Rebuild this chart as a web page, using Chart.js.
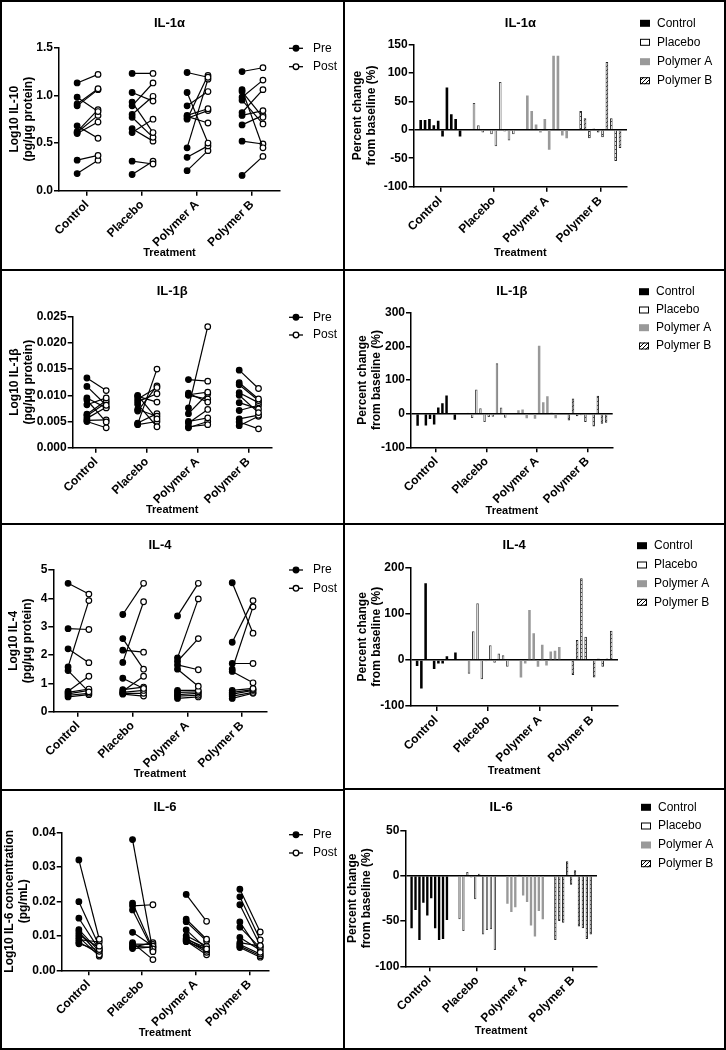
<!DOCTYPE html>
<html>
<head>
<meta charset="utf-8">
<script src="https://cdn.jsdelivr.net/npm/chart.js@4/dist/chart.umd.min.js"></script>
<style>
  body { margin: 0; background: #fff; width: 726px; height: 1050px; position: relative; overflow: hidden; }
  canvas { position: absolute; }
  .frame { position: absolute; border: 2px solid #000; box-sizing: border-box; pointer-events: none; }
</style>
</head>
<body>
<canvas id="preIl1a" width="343" height="268" style="left:0;top:0"></canvas>
<canvas id="chgIl1a" width="379" height="268" style="left:345px;top:0"></canvas>
<canvas id="preIl1b" width="343" height="253" style="left:0;top:270px"></canvas>
<canvas id="chgIl1b" width="379" height="253" style="left:345px;top:270px"></canvas>
<canvas id="preIl4" width="343" height="264" style="left:0;top:525px"></canvas>
<canvas id="chgIl4" width="379" height="264" style="left:345px;top:525px"></canvas>
<canvas id="preIl6" width="343" height="257" style="left:0;top:791px"></canvas>
<canvas id="chgIl6" width="379" height="258" style="left:345px;top:790px"></canvas>

<div class="frame" style="left:0;top:0;width:345px;height:271px"></div>
<div class="frame" style="left:0;top:269px;width:345px;height:256px"></div>
<div class="frame" style="left:0;top:523px;width:345px;height:268px"></div>
<div class="frame" style="left:0;top:789px;width:345px;height:261px"></div>
<div class="frame" style="left:343px;top:0;width:383px;height:271px"></div>
<div class="frame" style="left:343px;top:269px;width:383px;height:256px"></div>
<div class="frame" style="left:343px;top:523px;width:383px;height:267px"></div>
<div class="frame" style="left:343px;top:788px;width:383px;height:262px"></div>

<script>
// ---- data ----
const categories = ['Control', 'Placebo', 'Polymer A', 'Polymer B'];
const seriesNames = ['Pre', 'Post'];

// IL-1alpha (one row per treatment group, one value per subject)
const il1aPre = [
  [1.13, 0.98, 0.91, 0.89, 0.68, 0.62, 0.61, 0.60, 0.32, 0.18],
  [1.23, 1.03, 0.93, 0.89, 0.80, 0.77, 0.65, 0.61, 0.31, 0.17],
  [1.24, 1.03, 0.89, 0.79, 0.78, 0.76, 0.75, 0.45, 0.35, 0.21],
  [1.25, 1.06, 1.04, 0.98, 0.95, 0.82, 0.79, 0.69, 0.52, 0.16]
];
const il1aPost = [
  [1.22, 0.83, 1.07, 1.06, 0.55, 0.85, 0.79, 0.72, 0.37, 0.32],
  [1.23, 0.94, 0.61, 1.13, 0.99, 0.56, 0.52, 0.75, 0.28, 0.31],
  [1.19, 0.50, 1.04, 0.86, 0.71, 0.84, 1.21, 1.17, 0.47, 0.42],
  [1.29, 0.45, 0.77, 1.16, 0.70, 1.06, 0.84, 0.79, 0.49, 0.36]
];
const il1aChange = [
  [17, 17, 19, 8, 16, -12, 74, 27, 19, -12],
  [47, 8, -5, null, -8, -29, 84, -3, -19, -8],
  [60, 33, 9, -5, 19, -35, 130, 130, -10, -15],
  [33, 20, -15, 2, -5, -13, 119, 20, -55, -32]
];

// IL-1beta
const il1bPre = [
  [0.0133, 0.0117, 0.0095, 0.0091, 0.0082, 0.0064, 0.0061, 0.0056, 0.0052, 0.0050],
  [0.0100, 0.0098, 0.0093, 0.0088, 0.0083, 0.0073, 0.0070, 0.0047, 0.0045, 0.0044],
  [0.0130, 0.0104, 0.0101, 0.0100, 0.0076, 0.0065, 0.0050, 0.0047, 0.0040, 0.0038],
  [0.0148, 0.0124, 0.0120, 0.0105, 0.0100, 0.0086, 0.0071, 0.0055, 0.0049, 0.0042]
];
const il1bPost = [
  [0.0109, 0.0081, 0.0076, 0.0049, 0.0095, 0.0090, 0.0086, 0.0077, 0.0053, 0.0038],
  [0.0055, 0.0087, 0.0115, 0.0103, 0.0040, 0.0060, 0.0118, 0.0065, 0.0150, 0.0050],
  [0.0127, 0.0087, 0.0106, 0.0093, 0.0231, 0.0103, 0.0057, 0.0073, 0.0044, 0.0050],
  [0.0113, 0.0093, 0.0090, 0.0086, 0.0067, 0.0074, 0.0081, 0.0062, 0.0036, 0.0060]
];
const il1bChange = [
  [-36, null, -35, -16, -32, 18, 31, 54, null, -18],
  [3, -13, 72, 16, -25, -10, -9, 150, 18, -12],
  [10, 12, -14, null, -15, 202, 34, 52, 3, -14],
  [-20, 45, -8, -5, -25, -3, -38, 53, -30, -27]
];

// IL-4
const il4Pre = [
  [4.53, 2.93, 2.22, 1.58, 1.45, 0.72, 0.68, 0.63, 0.58, 0.52],
  [3.43, 2.58, 2.17, 1.74, 1.18, 0.78, 0.72, 0.68, 0.65, 0.62],
  [3.38, 1.90, 1.78, 1.65, 1.50, 0.75, 0.68, 0.60, 0.55, 0.47],
  [4.55, 2.45, 1.70, 1.50, 1.42, 0.75, 0.68, 0.62, 0.55, 0.47]
];
const il4Post = [
  [4.15, 2.90, 1.73, 3.92, 0.70, 1.25, 0.80, 0.75, 0.65, 0.60],
  [4.53, 1.50, 2.10, 3.88, 0.82, 0.87, 1.25, 0.75, 0.65, 0.55],
  [4.53, 3.98, 2.58, 1.48, 0.90, 0.75, 0.70, 0.65, 0.58, 0.52],
  [2.77, 3.92, 1.70, 3.70, 1.02, 0.82, 0.78, 0.75, 0.68, 0.65]
];
const il4Change = [
  [-13, -62, 166, null, -20, -8, -8, 8, null, 16],
  [-30, 62, 123, -42, -3, 32, -6, 14, 10, -15],
  [-38, -8, 108, 58, -15, 33, -12, 18, 20, 28],
  [-33, 43, 177, 50, null, -38, 3, -15, 3, 63]
];

// IL-6
const il6Pre = [
  [0.0320, 0.0199, 0.0151, 0.0118, 0.0111, 0.0103, 0.0096, 0.0089, 0.0082, 0.0077],
  [0.0379, 0.0195, 0.0187, 0.0175, 0.0110, 0.0080, 0.0076, 0.0070, 0.0067, 0.0063],
  [0.0220, 0.0148, 0.0141, 0.0117, 0.0100, 0.0093, 0.0090, 0.0088, 0.0085, 0.0083],
  [0.0235, 0.0213, 0.0190, 0.0140, 0.0125, 0.0095, 0.0080, 0.0075, 0.0070, 0.0066]
];
const il6Post = [
  [0.0090, 0.0070, 0.0060, 0.0055, 0.0045, 0.0065, 0.0041, 0.0082, 0.0048, 0.0058],
  [0.0054, 0.0062, 0.0190, 0.0058, 0.0070, 0.0031, 0.0075, 0.0066, 0.0080, 0.0068],
  [0.0142, 0.0090, 0.0085, 0.0062, 0.0070, 0.0058, 0.0065, 0.0052, 0.0045, 0.0060],
  [0.0111, 0.0088, 0.0072, 0.0052, 0.0065, 0.0058, 0.0070, 0.0047, 0.0042, 0.0038]
];
const il6Change = [
  [-58, -38, -71, -30, -44, -25, -58, -71, -70, -49],
  [-48, -61, 4, -2, -26, 2, -65, -60, -59, -82],
  [-31, -40, -35, 1, -22, -29, -55, -67, -39, -48],
  [-71, -50, -52, 16, -10, 6, -56, -58, -70, -65]
];

// tick labels
const il1aTicks = [0, 0.5, 1.0, 1.5];
const il1bTicks = [0, 0.005, 0.010, 0.015, 0.020, 0.025];
const il4Ticks = [0, 1, 2, 3, 4, 5];
const il6Ticks = [0, 0.01, 0.02, 0.03, 0.04];
const il1aChangeTicks = [-100, -50, 0, 50, 100, 150];
const il1bChangeTicks = [-100, 0, 100, 200, 300];
const il4ChangeTicks = [-100, 0, 100, 200];
const il6ChangeTicks = [-100, -50, 0, 50];

// ---- styling helpers ----
Chart.defaults.font.family = "'Liberation Sans', Arial, Helvetica, sans-serif";
Chart.defaults.color = '#000';

function hatchPattern() {
  const c = document.createElement('canvas');
  c.width = 4; c.height = 4;
  const g = c.getContext('2d');
  g.fillStyle = '#fff';
  g.fillRect(0, 0, 4, 4);
  g.strokeStyle = '#000';
  g.lineWidth = 1;
  g.beginPath();
  g.moveTo(-1, 5); g.lineTo(5, -1);
  g.stroke();
  return g.createPattern(c, 'repeat');
}
const hatch = hatchPattern();
const groupFill = ['#000', '#fff', '#999', hatch];
const groupBorder = ['#000', '#444', '#999', '#222'];
const groupBorderW = [0, 1, 0, 1];

const PRE_OFF = -0.18, POST_OFF = 0.2;

// draws the small legend on the right of each panel
function sideLegend(cfg) {
  return {
    id: 'sideLegend',
    afterDraw(chart) {
      const ctx = chart.ctx;
      ctx.save();
      ctx.font = "12px 'Liberation Sans', Arial, sans-serif";
      ctx.textBaseline = 'middle';
      cfg.items.forEach((it, i) => {
        const y = cfg.y[i];
        if (it.kind === 'line') {
          ctx.strokeStyle = '#000';
          ctx.lineWidth = 1.3;
          ctx.beginPath(); ctx.moveTo(cfg.x, y); ctx.lineTo(cfg.x + 14, y); ctx.stroke();
          ctx.beginPath(); ctx.arc(cfg.x + 7, y, 2.8, 0, Math.PI * 2);
          ctx.fillStyle = it.fill; ctx.fill(); ctx.stroke();
        } else {
          ctx.fillStyle = it.fill;
          ctx.fillRect(cfg.x, y - 3.5, 10, 7);
          if (it.stroke) {
            ctx.strokeStyle = '#000'; ctx.lineWidth = 1;
            ctx.strokeRect(cfg.x + 0.5, y - 3, 9, 6);
          }
        }
        ctx.fillStyle = '#000';
        ctx.fillText(it.text, cfg.textX, y);
      });
      ctx.restore();
    }
  };
}

function axisLine() {
  return { color: '#000', width: 1.5 };
}

function commonScales(p) {
  return {
    y: {
      min: p.yTicks[0], max: p.yTicks[p.yTicks.length - 1],
      afterBuildTicks: s => { s.ticks = p.yTicks.map(v => ({ value: v })); },
      afterFit: s => { s.width = p.yw; },
      ticks: {
        callback: v => p.dec != null ? Number(v).toFixed(p.dec) : String(v),
        font: { size: 12, weight: 'bold' }, color: '#000', padding: 1
      },
      grid: {
        drawOnChartArea: !!p.zeroLine,
        color: c => (p.zeroLine && c.tick && c.tick.value === 0) ? '#000' : 'rgba(0,0,0,0)',
        tickColor: '#000', lineWidth: 1.5, tickLength: 5
      },
      border: axisLine(),
      title: {
        display: true, text: p.yTitle, color: '#000',
        font: { size: 12, weight: 'bold' }, padding: { top: p.ytPad, bottom: 0 }
      }
    },
    xTicks: {
      autoSkip: false, minRotation: 45, maxRotation: 45,
      font: { size: 12, weight: 'bold' }, color: '#000', padding: 2
    },
    xTitle: {
      display: true, text: 'Treatment', color: '#000',
      font: { size: 11, weight: 'bold' }, padding: { top: 0, bottom: p.xtPad }
    }
  };
}

function titleOpts(p) {
  return {
    display: true, text: p.title, fullSize: false, color: '#000',
    font: { size: 13, weight: 'bold' }, padding: { top: p.tTop, bottom: p.tBottom }
  };
}

function drawPrePost(id, pre, post, p) {
  const datasets = [];
  categories.forEach((cat, g) => {
    pre[g].forEach((v, k) => {
      datasets.push({
        data: [{ x: g + PRE_OFF, y: v }, { x: g + POST_OFF, y: post[g][k] }],
        borderColor: '#000', borderWidth: 1.2,
        pointRadius: 2.8, pointBorderWidth: 1.2, pointBorderColor: '#000',
        pointBackgroundColor: ['#000', '#fff'], tension: 0
      });
    });
  });
  const sc = commonScales(p);
  new Chart(document.getElementById(id), {
    type: 'line',
    data: { datasets },
    options: {
      responsive: false, animation: false, devicePixelRatio: 1,
      layout: { padding: { left: 0, top: 0, bottom: 0, right: p.padRight } },
      plugins: { legend: { display: false }, tooltip: { enabled: false }, title: titleOpts(p) },
      scales: {
        x: {
          type: 'linear', min: p.xMin, max: p.xMax,
          afterBuildTicks: s => { s.ticks = categories.map((c, i) => ({ value: i })); },
          afterFit: s => { s.height = p.xh; },
          ticks: Object.assign({ callback: v => categories[v] }, sc.xTicks),
          grid: { drawOnChartArea: false, color: '#000', lineWidth: 1.5, tickLength: 5 },
          border: axisLine(),
          title: sc.xTitle
        },
        y: sc.y
      }
    },
    plugins: [sideLegend({
      x: 289, textX: 313, y: p.legY,
      items: seriesNames.map((s, i) => ({ kind: 'line', text: s, fill: i === 0 ? '#000' : '#fff' }))
    })]
  });
}

function drawChange(id, change, p) {
  const n = Math.max(...change.map(g => g.length));
  const datasets = [];
  for (let k = 0; k < n; k++) {
    datasets.push({
      data: change.map(g => g[k] ?? null),
      backgroundColor: groupFill, borderColor: groupBorder, borderWidth: groupBorderW,
      barPercentage: 0.6, categoryPercentage: 0.82
    });
  }
  const sc = commonScales(Object.assign({ zeroLine: true }, p));
  new Chart(document.getElementById(id), {
    type: 'bar',
    data: { labels: categories, datasets },
    options: {
      responsive: false, animation: false, devicePixelRatio: 1,
      layout: { padding: { left: 0, top: 0, bottom: 0, right: p.padRight } },
      plugins: { legend: { display: false }, tooltip: { enabled: false }, title: titleOpts(p) },
      scales: {
        x: {
          afterFit: s => { s.height = p.xh; },
          ticks: sc.xTicks,
          grid: { offset: false, drawOnChartArea: false, color: '#000', lineWidth: 1.5, tickLength: 5 },
          border: axisLine(),
          title: sc.xTitle
        },
        y: sc.y
      }
    },
    plugins: [sideLegend({
      x: p.legX, textX: p.legX + 17, y: p.legY,
      items: categories.map((c, i) => ({ kind: 'box', text: c, fill: groupFill[i], stroke: i % 2 === 1 }))
    })]
  });
}

// ---- panels ----
const percentTitle = ['Percent change', 'from baseline (%)'];

drawPrePost('preIl1a', il1aPre, il1aPost, {
  title: 'IL-1\u03B1', yTitle: ['Log10 IL-10', '(pg/\u03BCg protein)'], yTicks: il1aTicks, dec: 1,
  xMin: -0.51, xMax: 3.51, yw: 59, xh: 77.3, padRight: 63,
  tTop: 15.2, tBottom: 16.9, ytPad: 7.5, xtPad: 8.4, legY: [48.3, 66.7]
});
drawChange('chgIl1a', il1aChange, {
  title: 'IL-1\u03B1', yTitle: percentTitle, yTicks: il1aChangeTicks,
  yw: 68.7, xh: 81.3, padRight: 97,
  tTop: 15.5, tBottom: 13.2, ytPad: 5, xtPad: 8.1,
  legX: 295, legY: [23.3, 42.3, 61.7, 80.7]
});

drawPrePost('preIl1b', il1bPre, il1bPost, {
  title: 'IL-1\u03B2', yTitle: ['Log10 IL-1\u03B2', '(pg/\u03BCg protein)'], yTicks: il1bTicks, dec: 3,
  xMin: -0.46, xMax: 3.46, yw: 72.7, xh: 75.3, padRight: 71.3,
  tTop: 13.2, tBottom: 17.9, ytPad: 7.5, xtPad: 6.4, legY: [47.3, 65]
});
drawChange('chgIl1b', il1bChange, {
  title: 'IL-1\u03B2', yTitle: percentTitle, yTicks: il1bChangeTicks,
  yw: 66, xh: 75.7, padRight: 111.3,
  tTop: 13.9, tBottom: 13.2, ytPad: 10, xtPad: 5.4,
  legX: 294, legY: [21.7, 40, 57.7, 76]
});

drawPrePost('preIl4', il4Pre, il4Post, {
  title: 'IL-4', yTitle: ['Log10 IL-4', '(pg/\u03BCg protein)'], yTicks: il4Ticks, dec: 0,
  xMin: -0.45, xMax: 3.45, yw: 53.3, xh: 77.3, padRight: 76.3,
  tTop: 12.2, tBottom: 17.2, ytPad: 6, xtPad: 8.4, legY: [45, 63.3]
});
drawChange('chgIl4', il4Change, {
  title: 'IL-4', yTitle: percentTitle, yTicks: il4ChangeTicks,
  yw: 65.3, xh: 83, padRight: 106,
  tTop: 12.2, tBottom: 14.9, ytPad: 10, xtPad: 11.7,
  legX: 292, legY: [20.7, 40, 58.7, 77.3]
});

drawPrePost('preIl6', il6Pre, il6Post, {
  title: 'IL-6', yTitle: ['Log10 IL-6 concentration', '(pg/mL)'], yTicks: il6Ticks, dec: 2,
  xMin: -0.5, xMax: 3.35, yw: 61.7, xh: 77.7, padRight: 74.7,
  tTop: 8.5, tBottom: 17.2, ytPad: 2, xtPad: 8.4, legY: [43.7, 62]
});
drawChange('chgIl6', il6Change, {
  title: 'IL-6', yTitle: percentTitle, yTicks: il6ChangeTicks,
  yw: 60.3, xh: 81.7, padRight: 127,
  tTop: 9.5, tBottom: 15.2, ytPad: 0, xtPad: 10.1,
  legX: 296, legY: [17.3, 36, 55, 73.7]
});
</script>
</body>
</html>
